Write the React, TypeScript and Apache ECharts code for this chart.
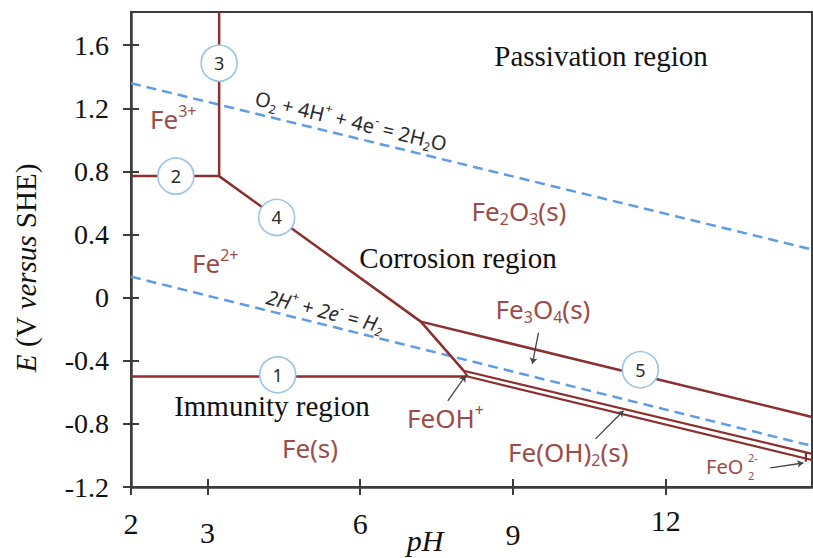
import React, { useEffect, useRef } from 'react';
import * as echarts from 'echarts';

// ---- axis ticks ----
const xTickValues = [1.5, 3, 6, 9, 12];
const xTickLabels = ['2', '3', '6', '9', '12'];
const yTickValues = [-1.2, -0.8, -0.4, 0, 0.4, 0.8, 1.2, 1.6];
const yTickLabels = ['-1.2', '-0.8', '-0.4', '0', '0.4', '0.8', '1.2', '1.6'];
const X_MIN = 1.5;
const X_MAX = 14.87;
const Y_MIN = -1.2;
const Y_MAX = 1.81;

// ---- boundaries, [pH, E] ----
const boundary1 = [[1.5, -0.5], [8.11, -0.5]];
const boundary2 = [[1.5, 0.77], [3.23, 0.77]];
const boundary3 = [[3.23, 0.77], [3.23, 1.81]];
const boundary4 = [[3.23, 0.77], [7.19, -0.152], [8.03, -0.463]];
const boundary5 = [[7.19, -0.152], [14.87, -0.756]];
const feoh2Upper = [[8.03, -0.463], [14.87, -0.99]];
const feoh2Lower = [[8.11, -0.5], [14.87, -1.029]];
const feohLink = [[8.03, -0.463], [8.11, -0.5]];
const feo2Edge = [[14.75, -0.985], [14.75, -1.04]];
const o2Line = [[1.5, 1.359], [14.87, 0.305]];
const h2Line = [[1.5, 0.133], [14.87, -0.94]];

// ---- numbered circles ----
const circlePoints = [[4.38, -0.489], [2.38, 0.77], [3.23, 1.486], [4.36, 0.508], [11.5, -0.457]];
const circleLabels = ['1', '2', '3', '4', '5'];

// ---- pointer lines ----
const pointerFe3O4 = [[9.5, -0.222], [9.38, -0.419]];
const pointerFeOH = [[7.72, -0.654], [8.07, -0.495]];
const pointerFeOH2 = [[10.62, -0.895], [11.17, -0.717]];
const pointerFeO2 = [[14.05, -1.079], [14.7, -1.048]];

const SERIF = '"Liberation Serif", "Times New Roman", serif';
const SANS = '"Noto Sans", "Open Sans", sans-serif';
const RED_LINE = '#8C2F2F';
const RED_TEXT = '#9C4C48';
const BLUE = '#5E9DE3';
const AXIS = '#3c3c3c';
const xLabelDrop = [3, 12, 3, 14, 0];

function redRich(size: number) {
  const sm = Math.round(size * 0.62);
  return {
    n: { fontSize: size, fontFamily: SANS, fill: RED_TEXT, lineHeight: size + 6 },
    sup: { fontSize: sm, fontFamily: SANS, fill: RED_TEXT, lineHeight: sm, verticalAlign: 'top' },
    sub: { fontSize: sm, fontFamily: SANS, fill: RED_TEXT, lineHeight: sm, verticalAlign: 'bottom' },
  };
}

function eqRich(italic: boolean) {
  const fs = italic ? 'italic' : 'normal';
  return {
    n: { fontSize: 20, fontFamily: SANS, fill: '#2a2a2a', fontStyle: fs, lineHeight: 26 },
    sup: { fontSize: 12, fontFamily: SANS, fill: '#2a2a2a', fontStyle: fs, lineHeight: 12, verticalAlign: 'top' },
    sub: { fontSize: 12, fontFamily: SANS, fill: '#2a2a2a', fontStyle: fs, lineHeight: 12, verticalAlign: 'bottom' },
  };
}

function redLabel(text: string, x: number, y: number, align: string, size = 26) {
  return {
    type: 'text',
    x,
    y,
    z: 10,
    style: { text, rich: redRich(size), align, verticalAlign: 'middle', fill: RED_TEXT },
  };
}

function serifLabel(text: string, x: number, y: number) {
  return {
    type: 'text',
    x,
    y,
    z: 10,
    style: {
      text,
      fontFamily: SERIF,
      fontSize: 29,
      fill: '#111',
      align: 'center',
      verticalAlign: 'middle',
    },
  };
}

function lineSeries(data: number[][], color: string, width: number, dashed = false) {
  return {
    type: 'line',
    data,
    showSymbol: false,
    symbol: 'none',
    silent: true,
    lineStyle: { color, width, type: dashed ? [10, 6] : 'solid' },
    z: 2,
  };
}

export default function App() {
  const ref = useRef<HTMLDivElement>(null);

  useEffect(() => {
    if (!ref.current) return;
    const chart = echarts.init(ref.current, null, { renderer: 'svg' });

    const xRich: Record<string, any> = {};
    xTickLabels.forEach((_, i) => {
      xRich['l' + i] = {
        fontSize: 30,
        fontFamily: SERIF,
        color: '#111',
        padding: [xLabelDrop[i], 0, 0, 0],
      };
    });

    const option: any = {
      animation: false,
      backgroundColor: '#fff',
      grid: {
        left: 131,
        right: 1,
        top: 12,
        bottom: 71,
        show: true,
        borderColor: AXIS,
        borderWidth: 2,
        containLabel: false,
        outerBoundsMode: 'none',
      },
      xAxis: [
        {
          type: 'value',
          min: X_MIN,
          max: X_MAX,
          position: 'bottom',
          axisLine: { show: true, onZero: false, lineStyle: { color: AXIS, width: 2.5 } },
          axisTick: { show: true, customValues: xTickValues, length: 8, lineStyle: { color: AXIS, width: 2 } },
          axisLabel: {
            customValues: xTickValues,
            margin: 18,
            fontFamily: SERIF,
            fontSize: 30,
            color: '#111',
            rich: xRich,
            formatter: (v: number) => {
              const i = xTickValues.findIndex((t) => Math.abs(t - v) < 1e-6);
              return i < 0 ? '' : `{l${i}|${xTickLabels[i]}}`;
            },
          },
          splitLine: { show: false },
        },
        {
          type: 'value',
          min: X_MIN,
          max: X_MAX,
          position: 'bottom',
          axisLine: { show: false, onZero: false },
          axisTick: { show: true, inside: true, customValues: xTickValues, length: 8, lineStyle: { color: AXIS, width: 2 } },
          axisLabel: { show: false },
          splitLine: { show: false },
        },
      ],
      yAxis: [
        {
          type: 'value',
          min: Y_MIN,
          max: Y_MAX,
          position: 'left',
          axisLine: { show: true, onZero: false, lineStyle: { color: AXIS, width: 2.5 } },
          axisTick: { show: true, customValues: yTickValues, length: 8, lineStyle: { color: AXIS, width: 2 } },
          axisLabel: {
            customValues: yTickValues,
            margin: 22,
            fontFamily: SERIF,
            fontSize: 28,
            color: '#111',
            formatter: (v: number) => {
              const i = yTickValues.findIndex((t) => Math.abs(t - v) < 1e-6);
              return i < 0 ? '' : yTickLabels[i];
            },
          },
          splitLine: { show: false },
        },
        {
          type: 'value',
          min: Y_MIN,
          max: Y_MAX,
          position: 'left',
          axisLine: { show: false, onZero: false },
          axisTick: { show: true, inside: true, customValues: yTickValues, length: 8, lineStyle: { color: AXIS, width: 2 } },
          axisLabel: { show: false },
          splitLine: { show: false },
        },
      ],
      series: [
        lineSeries(o2Line, BLUE, 2.5, true),
        lineSeries(h2Line, BLUE, 2.5, true),
        lineSeries(boundary1, RED_LINE, 2.5),
        lineSeries(boundary2, RED_LINE, 2.5),
        lineSeries(boundary3, RED_LINE, 2.5),
        lineSeries(boundary4, RED_LINE, 2.5),
        lineSeries(boundary5, RED_LINE, 2.5),
        lineSeries(feoh2Upper, RED_LINE, 2.2),
        lineSeries(feoh2Lower, RED_LINE, 2.2),
        lineSeries(feohLink, RED_LINE, 2.2),
        lineSeries(feo2Edge, RED_LINE, 2.2),
        {
          type: 'lines',
          coordinateSystem: 'cartesian2d',
          silent: true,
          symbol: ['none', 'arrow'],
          symbolSize: 6,
          lineStyle: { color: '#444', width: 1.3, opacity: 1 },
          data: [pointerFe3O4, pointerFeOH, pointerFeOH2, pointerFeO2].map((c) => ({ coords: c })),
          z: 3,
        },
        {
          type: 'scatter',
          data: circlePoints.map((p, i) => ({ value: p, name: circleLabels[i] })),
          symbol: 'circle',
          symbolSize: 36,
          silent: true,
          itemStyle: { color: '#fff', borderColor: '#9DC3E6', borderWidth: 1.6, opacity: 1 },
          label: {
            show: true,
            position: 'inside',
            formatter: (p: any) => p.name,
            fontFamily: SANS,
            fontSize: 18,
            color: '#2a2a2a',
          },
          z: 5,
        },
      ],
      graphic: [
        serifLabel('Passivation region', 601, 56),
        serifLabel('Corrosion region', 458, 258),
        serifLabel('Immunity region', 272, 406),
        {
          type: 'text',
          x: 425,
          y: 540,
          style: {
            text: 'pH',
            fontFamily: SERIF,
            fontStyle: 'italic',
            fontSize: 30,
            fill: '#111',
            align: 'center',
            verticalAlign: 'middle',
          },
        },
        {
          type: 'text',
          x: 26,
          y: 268,
          rotation: Math.PI / 2,
          style: {
            text: '{i|E}{r| (V }{i|versus}{r| SHE)}',
            rich: {
              i: { fontFamily: SERIF, fontSize: 29, fontStyle: 'italic', fill: '#111' },
              r: { fontFamily: SERIF, fontSize: 29, fill: '#111' },
            },
            align: 'center',
            verticalAlign: 'middle',
            fill: '#111',
          },
        },
        redLabel('{n|Fe}{sup|3+}', 150, 119, 'left'),
        redLabel('{n|Fe}{sup|2+}', 192, 263, 'left'),
        redLabel('{n|Fe}{sub|2}{n|O}{sub|3}{n|(s)}', 519, 211, 'center'),
        redLabel('{n|Fe}{sub|3}{n|O}{sub|4}{n|(s)}', 543, 309, 'center'),
        redLabel('{n|FeOH}{sup|+}', 407, 418, 'left'),
        redLabel('{n|Fe(s)}', 310, 448, 'center'),
        redLabel('{n|Fe(OH)}{sub|2}{n|(s)}', 508, 452, 'left'),
        redLabel('{n|FeO}', 706, 466, 'left', 20),
        {
          type: 'text', x: 748, y: 457, z: 10,
          style: { text: '2-', fontFamily: SANS, fontSize: 11, fill: RED_TEXT, align: 'left', verticalAlign: 'middle' },
        },
        {
          type: 'text', x: 748, y: 475, z: 10,
          style: { text: '2', fontFamily: SANS, fontSize: 11, fill: RED_TEXT, align: 'left', verticalAlign: 'middle' },
        },
        {
          type: 'text',
          x: 351,
          y: 121,
          rotation: -0.238,
          z: 10,
          style: {
            text: '{n|O}{sub|2}{n| + 4H}{sup|+}{n| + 4e}{sup|-}{n| = 2H}{sub|2}{n|O}',
            rich: eqRich(false),
            align: 'center',
            verticalAlign: 'middle',
            fill: '#2a2a2a',
          },
        },
        {
          type: 'text',
          x: 325,
          y: 311,
          rotation: -0.245,
          z: 10,
          style: {
            text: '{n|2H}{sup|+}{n| + 2e}{sup|-}{n| = H}{sub|2}',
            rich: eqRich(true),
            align: 'center',
            verticalAlign: 'middle',
            fill: '#2a2a2a',
          },
        },
      ],
    };

    chart.setOption(option);
    return () => chart.dispose();
  }, []);

  return (
    <div
      ref={ref}
      style={{ position: 'absolute', left: 0, top: 0, width: 813, height: 558, background: '#fff' }}
    />
  );
}
